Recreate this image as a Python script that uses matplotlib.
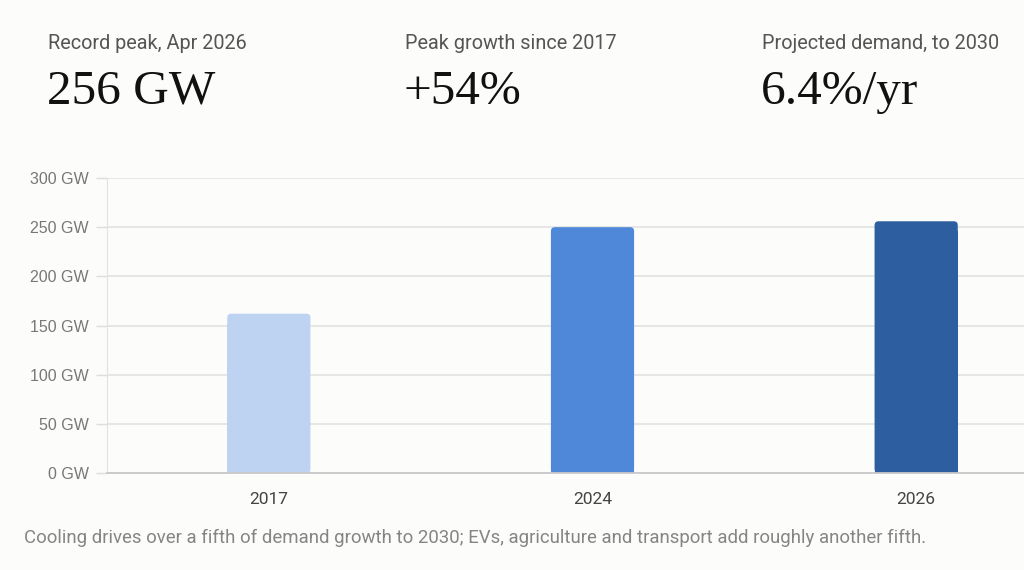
import numpy as np
import matplotlib.pyplot as plt
from matplotlib.patches import FancyBboxPatch, Rectangle

# chart data
years = ["2017", "2024", "2026"]
peak_gw = [162, 250, 256]
bar_colors = ["#bdd3f1", "#4f88d8", "#2d5e9f"]
y_ticks = [0, 50, 100, 150, 200, 250, 300]

kpi_labels = ["Record peak, Apr 2026", "Peak growth since 2017", "Projected demand, to 2030"]
kpi_values = ["256 GW", "+54%", "6.4%/yr"]
caption = ("Cooling drives over a fifth of demand growth to 2030; EVs, agriculture "
           "and transport add roughly another fifth.")

BG = "#fcfcfa"
W, H = 1024, 570

fig = plt.figure(figsize=(W / 100, H / 100), dpi=100, facecolor=BG)

# axes runs off the right edge of the figure, like the original crop
ax_w, ax_h = 971, 295
ax = fig.add_axes([107 / W, 1 - 473 / H, ax_w / W, ax_h / H], facecolor=BG)
ax.set_xlim(-0.5, 2.5)
ax.set_ylim(0, 300)

# bars with slightly rounded tops
bw = 0.257
px_x = ax_w / 3.0      # pixels per x unit
px_y = ax_h / 300.0    # pixels per GW
r = 4.0 / px_x
for i, (v, c) in enumerate(zip(peak_gw, bar_colors)):
    ax.add_patch(FancyBboxPatch((i - bw / 2, 0), bw, v,
                                boxstyle="round,pad=0,rounding_size=%f" % r,
                                mutation_aspect=px_x / px_y, fc=c, ec="none", zorder=3))
    ax.add_patch(Rectangle((i - bw / 2, 0), bw, v - 10, fc=c, ec="none", zorder=3))

xs = np.arange(len(years))
ax.set_yticks(y_ticks)
ax.set_yticklabels(["%d GW" % v for v in y_ticks], family="Liberation Sans",
                   fontsize=11.5, color="#777777")
ax.set_xticks(xs)
ax.set_xticklabels(years, family="Roboto", fontsize=12.5, color="#444444")
ax.tick_params(axis="y", length=8, color="#dddddd", width=1, pad=5)
ax.tick_params(axis="x", length=0, pad=14)
ax.grid(axis="y", color="#e2e2e2", lw=1.2, zorder=0)
for s in ["top", "right"]:
    ax.spines[s].set_visible(False)
ax.spines["left"].set_color("#e2e2e2")
ax.spines["bottom"].set_color("#c9c9c9")
ax.spines["bottom"].set_linewidth(1.3)
ax.spines["bottom"].set_zorder(4)

# header KPIs
for i, (lab, val) in enumerate(zip(kpi_labels, kpi_values)):
    x = (48 + i * 357) / W
    fig.text(x, 1 - 49 / H, lab, family="Roboto", fontsize=14.3, color="#555555",
             va="baseline")
    fig.text(x - 1 / W, 1 - 104 / H, val, family="Liberation Serif", fontsize=35.5,
             color="#111111", va="baseline")

fig.text(24 / W, 1 - 543 / H, caption, family="Roboto", fontsize=13.4,
         color="#858585", va="baseline")

fig.savefig("out.png", dpi=100, facecolor=BG)
